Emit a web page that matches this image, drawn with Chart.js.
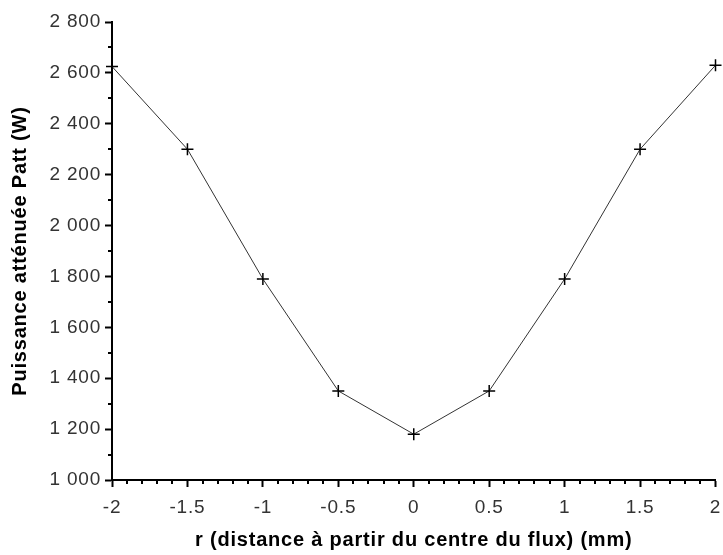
<!DOCTYPE html>
<html>
<head>
<meta charset="utf-8">
<script src="https://cdn.jsdelivr.net/npm/chart.js@4/dist/chart.umd.min.js"></script>
<style>
  html, body { margin: 0; padding: 0; background: #fff; }
  canvas { display: block; }
</style>
</head>
<body>
<canvas id="c" width="723" height="555"></canvas>
<script>
// données
const rVals = [-2, -1.5, -1, -0.5, 0, 0.5, 1, 1.5, 2];
const pattVals = [2625, 2300, 1790, 1350, 1180, 1350, 1790, 2300, 2630];
const xTicks = [-2, -1.5, -1, -0.5, 0, 0.5, 1, 1.5, 2];
const yTicks = [1000, 1200, 1400, 1600, 1800, 2000, 2200, 2400, 2600, 2800];

const FONT = "'Liberation Sans', Arial, sans-serif";

// séparateur de milliers par espace : 2800 -> "2 800"
const fmtY = v => String(v).replace(/\B(?=(\d{3})+(?!\d))/g, ' ');

// texte un peu espacé comme sur l'original
const spacing = {
    id: 'spacing',
    beforeUpdate(chart) { chart.ctx.letterSpacing = '0.8px'; },
    beforeDraw(chart) { chart.ctx.letterSpacing = '0.8px'; }
};

// petites graduations (0.1 en x, 100 en y)
const minorTicks = {
    id: 'minorTicks',
    afterDraw(chart) {
        const { ctx, scales: { x, y } } = chart;
        ctx.save();
        ctx.strokeStyle = '#000'; ctx.lineWidth = 2;
        ctx.beginPath();
        for (let i = 0; i <= 40; i++) {
            if (i % 5 === 0) continue;
            const px = Math.round(x.getPixelForValue(-2 + i * 0.1));
            ctx.moveTo(px, y.bottom); ctx.lineTo(px, y.bottom + 4);
        }
        for (let v = 1100; v < 2800; v += 200) {
            const py = Math.round(y.getPixelForValue(v));
            ctx.moveTo(x.left, py); ctx.lineTo(x.left - 4, py);
        }
        ctx.stroke();
        ctx.restore();
    }
};

new Chart(document.getElementById('c').getContext('2d'), {
    type: 'line',
    data: {
        datasets: [{
            data: rVals.map((r, i) => ({ x: r, y: pattVals[i] })),
            borderColor: '#333', borderWidth: 1, tension: 0, fill: false,
            pointStyle: 'cross', pointRadius: 6, pointBorderColor: '#000', pointBorderWidth: 1.5,
            clip: false
        }]
    },
    options: {
        responsive: false, animation: false, devicePixelRatio: 1,
        layout: { padding: { top: 22, right: 3, left: 0, bottom: 0 } },
        plugins: { legend: { display: false }, tooltip: { enabled: false } },
        scales: {
            x: {
                type: 'linear', min: -2, max: 2,
                afterBuildTicks: s => { s.ticks = xTicks.map(v => ({ value: v })); },
                afterFit: s => { s.height = 75; s.paddingLeft = 0; s.paddingRight = 0; },
                ticks: { callback: v => String(v), color: '#333', font: { family: FONT, size: 19 }, padding: 9, maxRotation: 0, autoSkip: false },
                grid: { drawOnChartArea: false, tickLength: 7, tickColor: '#000', tickWidth: 2 },
                border: { color: '#000', width: 2 },
                title: { display: true, text: 'r (distance à partir du centre du flux) (mm)', color: '#000', font: { family: FONT, size: 20, weight: 'bold' }, padding: { top: 4, bottom: 3 } }
            },
            y: {
                type: 'linear', min: 1000, max: 2800,
                afterBuildTicks: s => { s.ticks = yTicks.map(v => ({ value: v })); },
                afterFit: s => { s.width = 112; s.paddingTop = 0; s.paddingBottom = 0; },
                ticks: { callback: v => fmtY(v), color: '#333', font: { family: FONT, size: 19 }, padding: 4, autoSkip: false },
                grid: { drawOnChartArea: false, tickLength: 7, tickColor: '#000', tickWidth: 2 },
                border: { color: '#000', width: 2 },
                title: { display: true, text: 'Puissance atténuée Patt (W)', color: '#000', font: { family: FONT, size: 20, weight: 'bold' }, padding: { top: 8, bottom: 0 } }
            }
        }
    },
    plugins: [spacing, minorTicks]
});
</script>
</body>
</html>
